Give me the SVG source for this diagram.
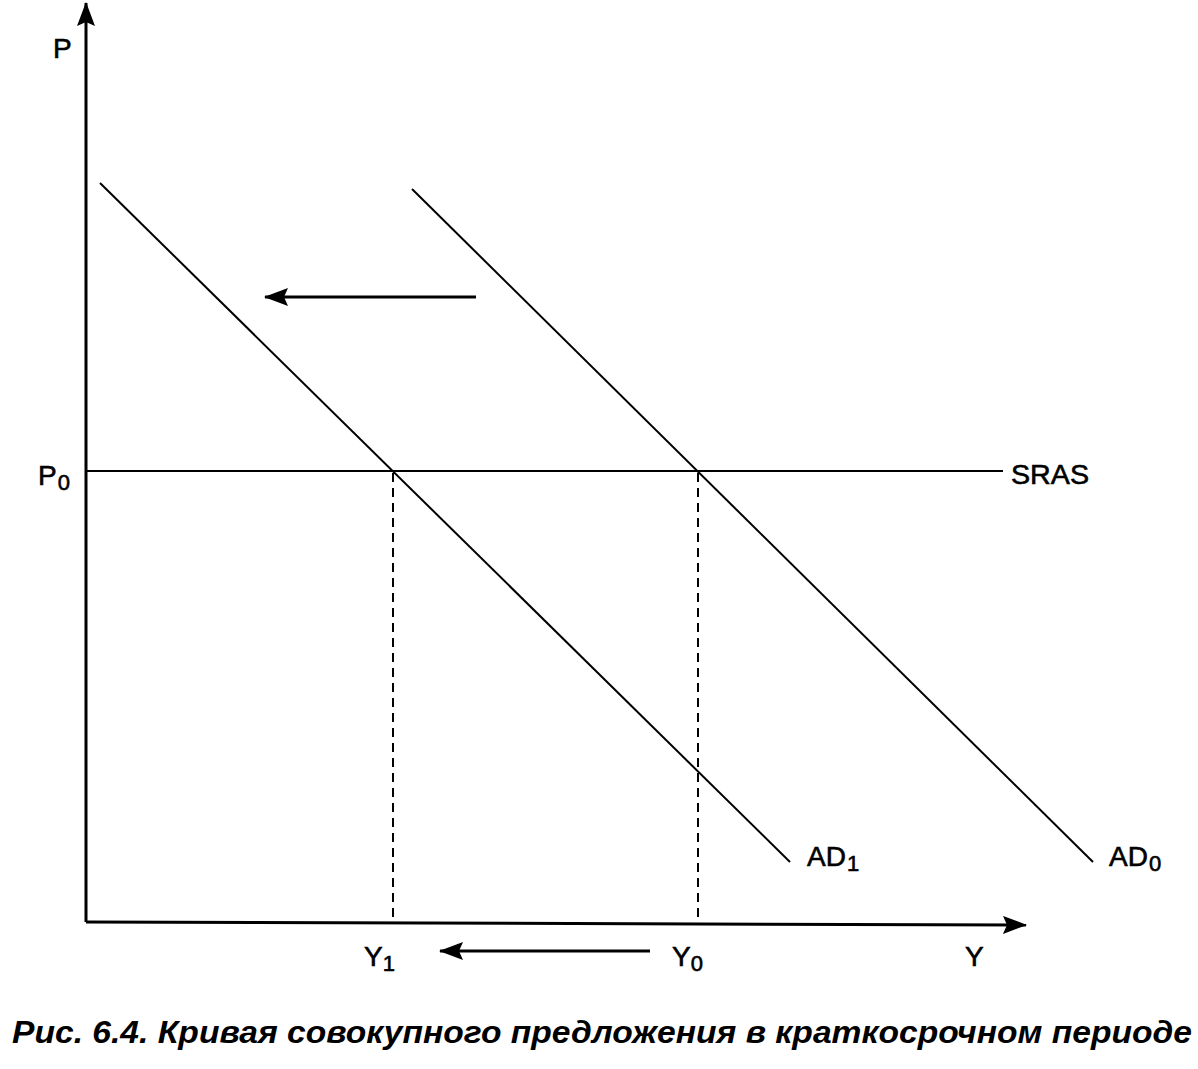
<svg xmlns="http://www.w3.org/2000/svg" width="1198" height="1069" viewBox="0 0 1198 1069">
<defs>
<style>
.ln{stroke:#000;stroke-width:2;fill:none}
.ax{stroke:#000;stroke-width:3;fill:none}
.ds{stroke:#000;stroke-width:2;stroke-dasharray:9,6;fill:none}
.lb{font-family:"Liberation Sans",Arial,sans-serif;font-size:28px;fill:#000;stroke:#000;stroke-width:0.6}
.sb{font-size:22px}
.cap{font-family:"Liberation Sans",Arial,sans-serif;font-size:32px;font-style:italic;font-weight:bold;fill:#000}
</style>
<marker id="ahb" viewBox="0 0 24 18" refX="23" refY="9" markerWidth="24" markerHeight="18" markerUnits="userSpaceOnUse" orient="auto"><path d="M0,0 L24,9 L0,18 L4,9 Z" fill="#000"/></marker>
</defs>
<g id="connectors">
<line id="p-axis" class="ax" x1="86" y1="922" x2="86" y2="3" marker-end="url(#ahb)"/>
<line id="y-axis" class="ax" x1="86" y1="922" x2="1026" y2="925" marker-end="url(#ahb)"/>
<line id="sras" class="ln" x1="86" y1="471" x2="1003" y2="471"/>
<line id="ad1" class="ln" x1="100" y1="183" x2="790" y2="862"/>
<line id="ad0" class="ln" x1="412" y1="189" x2="1093" y2="862"/>
<line id="d-y1" class="ds" x1="393" y1="473" x2="393" y2="921"/>
<line id="d-y0" class="ds" x1="698" y1="473" x2="698" y2="921"/>
<line id="shift-top" class="ax" x1="476" y1="297" x2="265" y2="297" marker-end="url(#ahb)"/>
<line id="shift-bottom" class="ax" x1="650" y1="951" x2="440" y2="951" marker-end="url(#ahb)"/>
</g>
<g id="label-P"><text class="lb" x="53" y="58">P</text></g>
<g id="label-P0"><text class="lb" x="38" y="485">P<tspan class="sb" dx="1" dy="5">0</tspan></text></g>
<g id="label-SRAS"><text class="lb" x="1011" y="484" textLength="78" lengthAdjust="spacingAndGlyphs">SRAS</text></g>
<g id="label-AD1"><text class="lb" x="807" y="866">AD<tspan class="sb" dx="1" dy="5">1</tspan></text></g>
<g id="label-AD0"><text class="lb" x="1109" y="866">AD<tspan class="sb" dx="1" dy="5">0</tspan></text></g>
<g id="label-Y1"><text class="lb" x="364" y="966">Y<tspan class="sb" dy="5">1</tspan></text></g>
<g id="label-Y0"><text class="lb" x="672" y="966">Y<tspan class="sb" dy="5">0</tspan></text></g>
<g id="label-Y"><text class="lb" x="965" y="966">Y</text></g>
<g id="caption"><text class="cap" x="12" y="1043" textLength="1180" lengthAdjust="spacingAndGlyphs">Рис. 6.4. Кривая совокупного предложения в краткосрочном периоде</text></g>
</svg>
